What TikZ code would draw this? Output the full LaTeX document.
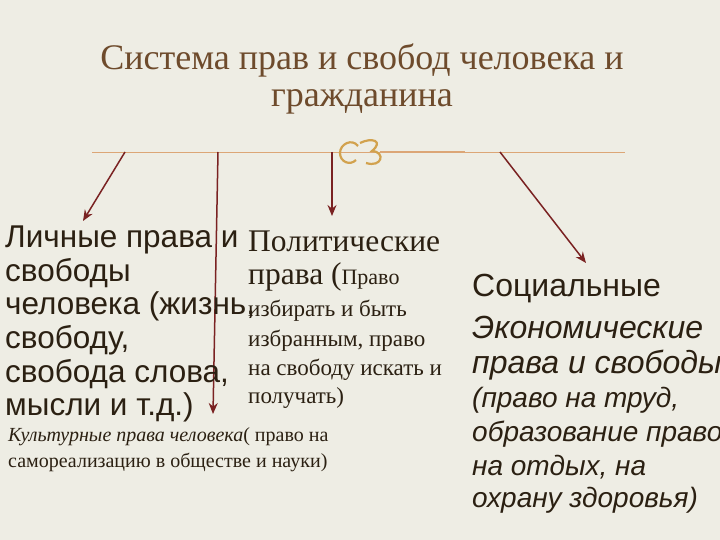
\documentclass[tikz,border=0pt]{standalone}
\usepackage{fontspec}
\setmainfont{Liberation Serif}
\newfontfamily\sansru{Liberation Sans}
\usetikzlibrary{arrows.meta}
\definecolor{bgpaper}{HTML}{EEEDE4}
\definecolor{titlebrown}{HTML}{6E4B2C}
\definecolor{bodyink}{HTML}{2B2012}
\definecolor{arrowred}{HTML}{7A2222}
\definecolor{ruletan}{HTML}{DCA676}
\definecolor{ornagold}{HTML}{D2A24E}
\tikzset{
  arr/.style = {draw = arrowred, line width = 1.5pt, -{Stealth[length = 11pt, width = 9pt]}},
  txt/.style = {anchor = west, inner sep = 0pt, text = bodyink},
}
\begin{document}
\begin{tikzpicture}[x = 1pt, y = -1pt]

  \fill [bgpaper] (0 , 0) rectangle (720 , 540);
  \useasboundingbox (0 , 0) rectangle (720 , 540);

  % title
  \node [text = titlebrown, font = \fontsize{36}{40}\selectfont] (title1) at (362 , 60) {Система прав и свобод человека и};
  \node [text = titlebrown, font = \fontsize{36}{40}\selectfont] (title2) at (362 , 102) {гражданина};

  % rule and ornament
  \draw [ruletan, line width = 0.8pt] (92 , 152) -- (625 , 152);
  \draw [ruletan, line width = 1.2pt] (380 , 152) -- (465 , 152);
  \draw [ornagold, line width = 2.2pt] (358 , 146) .. controls (352 , 138) and (340 , 144) .. (340 , 153)
        .. controls (340 , 162) and (350 , 166) .. (356 , 160);
  \draw [ornagold, line width = 2.2pt] (360 , 143) .. controls (372 , 137) and (384 , 141) .. (372 , 151)
        .. controls (386 , 152) and (382 , 168) .. (366 , 163);

  \coordinate (top1) at (125 , 152);
  \coordinate (top2) at (218 , 152);
  \coordinate (top3) at (332 , 152);
  \coordinate (top4) at (500 , 152);
  \coordinate (end1) at (83 , 221);
  \coordinate (end2) at (213 , 414);
  \coordinate (end3) at (332 , 216);
  \coordinate (end4) at (586 , 263);

  \draw [arr] (top1) -- (end1);
  \draw [arr] (top2) -- (end2);
  \draw [arr] (top3) -- (end3);
  \draw [arr] (top4) -- (end4);

  % personal rights
  \begin{scope}[every node/.style = {txt, font = \sansru\fontsize{31.5}{36}\selectfont}]
    \node (pers1) at (5 , 240) {Личные права и};
    \node (pers2) at (5 , 273) {свободы};
    \node (pers3) at (5 , 306) {человека (жизнь,};
    \node (pers4) at (5 , 340) {свободу,};
    \node (pers5) at (5 , 374) {свобода слова,};
    \node (pers6) at (5 , 407) {мысли и т.д.)};
  \end{scope}

  % political rights
  \node [txt, font = \fontsize{31.5}{36}\selectfont] (pol1) at (248 , 241) {Политические};
  \node [txt, font = \fontsize{31.5}{36}\selectfont] (pol2) at (248 , 277) {права (\fontsize{22}{26}\selectfont Право};
  \begin{scope}[every node/.style = {txt, font = \fontsize{23}{27}\selectfont}]
    \node (pol3) at (248 , 311) {избирать и быть};
    \node (pol4) at (248 , 341) {избранным, право};
    \node (pol5) at (248 , 370) {на свободу искать и};
    \node (pol6) at (248 , 398) {получать)};
  \end{scope}
  \begin{scope}[every node/.style = {txt, font = \fontsize{20}{24}\selectfont}]
    \node (cult1) at (8 , 437) {\itshape Культурные права человека\upshape( право на};
    \node (cult2) at (8 , 462) {самореализацию в обществе и науки)};
  \end{scope}

  % social and economic rights
  \begin{scope}[every node/.style = {txt, font = \sansru\itshape\fontsize{32}{36}\selectfont}]
    \node (soc1) at (472 , 289) {\upshape Социальные};
    \node (soc2) at (472 , 327) {Экономические};
    \node (soc3) at (472 , 365) {права и свободы};
  \end{scope}
  \begin{scope}[every node/.style = {txt, font = \sansru\itshape\fontsize{28}{32}\selectfont}]
    \node (soc4) at (472 , 400) {(право на труд,};
    \node (soc5) at (472 , 434) {образование право};
    \node (soc6) at (472 , 467) {на отдых, на};
    \node (soc7) at (472 , 500) {охрану здоровья)};
  \end{scope}

\end{tikzpicture}
\end{document}
